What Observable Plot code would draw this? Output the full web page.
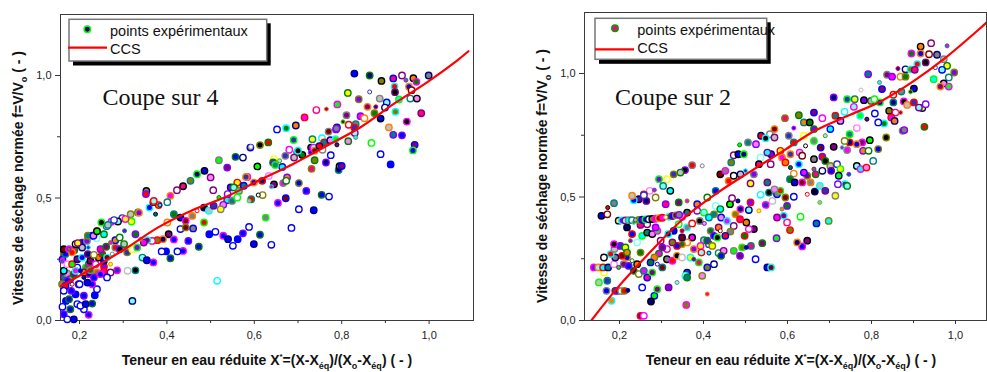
<!DOCTYPE html>
<html>
<head>
<meta charset="utf-8">
<script src="https://cdn.jsdelivr.net/npm/d3@7"></script>
<script src="https://cdn.jsdelivr.net/npm/@observablehq/plot@0.6"></script>
<style>
  body { margin: 0; background: #fff; }
  #wrap { position: relative; width: 987px; height: 372px; overflow: hidden; background: #fff; }
  #wrap svg { position: absolute; top: 0; }
</style>
</head>
<body>
<div id="wrap"></div>
<script>
// ---- Ticks ----
const xTicks = [0.2, 0.4, 0.6, 0.8, 1.0];
const xMinorTicks = [0.3, 0.5, 0.7, 0.9];
const yTicks = [0, 0.5, 1.0];
const yMinorTicks = [0.25, 0.75];

// ---- "Coupe sur 4": experimental points [X*, f] ----
const leftPoints = [
  [0.864,1.0],[0.891,0.978],[0.918,0.988],[0.938,1.0],[0.947,0.981],[0.964,0.989],[0.971,0.974],[0.954,0.954],[0.960,0.940],[0.999,1.0],
  [0.921,0.955],[0.922,0.932],[0.887,0.906],[0.864,0.933],[0.814,0.929],[0.839,0.903],[0.903,0.890],[0.931,0.902],[0.957,0.906],[0.972,0.906],
  [0.790,0.882],[0.859,0.872],[0.878,0.872],[0.899,0.869],[0.923,0.852],[0.982,0.846],[0.811,0.838],[0.843,0.834],[0.852,0.826],[0.875,0.846],
  [0.889,0.824],[0.803,0.811],[0.832,0.801],[0.816,0.799],[0.949,0.812],[0.908,0.788],[0.829,0.788],[0.789,0.788],[0.787,0.780],[0.830,0.765],
  [0.832,0.747],[0.918,0.758],[0.815,0.732],[0.868,0.725],[0.967,0.717],[0.963,0.694],[0.793,0.614],[0.795,0.630],[0.742,0.859],[0.765,0.863],
  [0.715,0.829],[0.695,0.796],[0.673,0.785],[0.652,0.780],[0.770,0.771],[0.788,0.784],
  [0.632,0.727],[0.613,0.716],[0.592,0.709],[0.690,0.737],[0.733,0.740],[0.730,0.706],[0.736,0.706],[0.755,0.744],[0.760,0.727],[0.774,0.736],
  [0.786,0.740],[0.789,0.717],[0.775,0.675],[0.764,0.645],[0.738,0.654],[0.731,0.619],[0.800,0.631],[0.680,0.697],[0.698,0.686],[0.710,0.676],
  [0.728,0.686],[0.738,0.693],[0.756,0.697],[0.749,0.712],[0.700,0.693],[0.691,0.665],[0.671,0.672],[0.645,0.659],[0.643,0.645],[0.658,0.652],
  [0.664,0.627],[0.648,0.635],[0.633,0.590],[0.607,0.629],[0.584,0.586],[0.599,0.563],[0.618,0.570],[0.619,0.512],[0.639,0.546],[0.645,0.556],
  [0.666,0.561],[0.675,0.584],[0.673,0.570],[0.702,0.561],[0.672,0.499],[0.626,0.420],[0.593,0.495],[0.609,0.512],[0.568,0.550],[0.581,0.586],
  [0.561,0.563],[0.546,0.543],[0.553,0.518],[0.538,0.491],[0.549,0.488],[0.529,0.472],[0.519,0.502],[0.506,0.532],[0.486,0.611],[0.469,0.597],
  [0.454,0.570],[0.437,0.548],[0.423,0.532],[0.408,0.509],[0.381,0.471],[0.374,0.434],[0.360,0.461],[0.369,0.483],[0.353,0.529],[0.352,0.516],
  [0.334,0.441],[0.317,0.434],[0.298,0.418],[0.319,0.404],[0.303,0.366],[0.288,0.404],[0.273,0.403],[0.262,0.385],[0.240,0.366],[0.229,0.346],
  [0.221,0.341],[0.206,0.318],[0.195,0.309],[0.176,0.291],[0.188,0.287],[0.164,0.271],[0.161,0.249],
  [0.401,0.400],[0.416,0.434],[0.431,0.420],[0.443,0.407],[0.458,0.427],[0.469,0.448],[0.485,0.461],[0.496,0.448],[0.507,0.468],[0.523,0.454],
  [0.539,0.516],[0.553,0.543],[0.565,0.529],[0.576,0.550],[0.588,0.488],[0.561,0.502],[0.404,0.352],[0.416,0.331],[0.391,0.332],[0.378,0.328],
  [0.366,0.325],[0.355,0.328],[0.347,0.318],[0.340,0.332],[0.328,0.352],[0.431,0.373],[0.443,0.380],[0.460,0.376],[0.485,0.400],
  [0.328,0.205],[0.310,0.203],[0.286,0.205],[0.271,0.230],[0.256,0.219],[0.321,0.080],[0.515,0.162],
  [0.164,0.176],[0.172,0.192],[0.179,0.169],[0.187,0.189],[0.195,0.216],[0.202,0.203],[0.214,0.216],[0.221,0.230],[0.225,0.244],[0.237,0.230],
  [0.244,0.257],[0.252,0.271],[0.256,0.244],[0.263,0.257],[0.275,0.271],[0.282,0.298],[0.292,0.291],[0.302,0.312],[0.309,0.278],[0.321,0.291],
  [0.332,0.298],[0.344,0.257],[0.164,0.203],[0.160,0.244],[0.172,0.230],[0.183,0.230],[0.195,0.250],[0.206,0.257],[0.219,0.271],[0.233,0.268],
  [0.248,0.291],[0.261,0.301],[0.271,0.318],[0.282,0.328],[0.292,0.339],[0.168,0.271],[0.164,0.291],[0.176,0.291],[0.183,0.278],[0.191,0.312],
  [0.206,0.298],[0.220,0.298],[0.196,0.316],[0.217,0.325],[0.239,0.336],[0.256,0.352],[0.219,0.346],[0.232,0.346],[0.240,0.364],[0.198,0.148],
  [0.210,0.176],[0.221,0.189],[0.240,0.196],[0.256,0.200],[0.271,0.196],[0.191,0.203],[0.210,0.196],[0.225,0.205],[0.172,0.162],[0.183,0.148],
  [0.160,0.148],[0.168,0.141],
  [0.250,0.400],[0.265,0.390],[0.279,0.410],[0.305,0.414],[0.336,0.440],[0.370,0.488],[0.384,0.471],[0.401,0.483],[0.500,0.584],[0.519,0.654],
  [0.538,0.624],[0.557,0.668],[0.574,0.665],[0.591,0.706]
];

// "Coupe sur 4": the blue run (low moisture tail and the row under the curve)
const leftBlueRun = [
  [0.829,1.008],[0.889,0.679],[0.912,0.637],[0.938,0.756],[0.702,0.454],[0.736,0.450],[0.754,0.513],[0.771,0.506],[0.719,0.529],[0.654,0.480],
  [0.685,0.378],[0.473,0.301],[0.497,0.352],[0.511,0.362],[0.529,0.346],[0.540,0.332],[0.551,0.305],[0.562,0.332],[0.574,0.356],[0.588,0.382],
  [0.599,0.312],[0.613,0.350],[0.639,0.309],[0.449,0.325],[0.437,0.284],[0.424,0.282],[0.408,0.254],[0.398,0.282],[0.388,0.282],[0.369,0.237],
  [0.354,0.246],[0.164,0.121],[0.169,0.080],[0.164,0.026],[0.172,0.005],[0.187,0.005],[0.179,0.046],[0.195,0.067],[0.210,0.101],[0.221,0.023],
  [0.210,0.046],[0.229,0.069],[0.235,0.103],[0.240,0.128],[0.229,0.148],[0.218,0.155],[0.200,0.148],[0.191,0.107],[0.181,0.121],[0.202,0.060],
  [0.214,0.067],[0.176,0.087],[0.161,0.056],[0.233,0.176],[0.248,0.189],[0.263,0.176]
];

// "Coupe sur 4": characteristic drying curve (CCS)
const leftCurve = [
  [0.157,0.140],[0.228,0.211],[0.305,0.293],[0.381,0.381],[0.457,0.449],[0.533,0.503],[0.610,0.571],
  [0.690,0.640],[0.767,0.714],[0.843,0.789],[0.919,0.884],[0.996,0.973],[1.064,1.061],[1.090,1.099]
];

// ---- "Coupe sur 2": experimental points [X*, f] ----
const rightPoints = [
  [0.942,1.123],[0.980,1.112],[0.917,1.109],[0.895,1.081],[0.917,1.081],[0.937,1.078],[0.956,1.076],[0.909,1.038],[0.929,1.045],[0.972,1.058],
  [0.952,1.024],[0.980,1.031],[0.997,1.004],[0.968,1.015],[0.948,0.977],[0.984,0.984],[0.972,0.960],[0.984,0.947],[0.964,0.947],[0.863,1.020],
  [0.881,1.017],[0.893,1.017],[0.903,1.015],[0.837,0.995],[0.849,0.987],[0.869,0.987],[0.881,0.987],[0.901,0.939],[0.893,0.926],[0.871,0.927],
  [0.852,0.914],[0.877,0.887],[0.885,0.873],[0.901,0.883],[0.921,0.860],[0.929,0.876],[0.913,0.862],[0.819,0.964],[0.792,0.997],[0.799,0.889],
  [0.807,0.896],[0.825,0.937],[0.820,0.883],[0.852,0.883],[0.842,0.849],[0.857,0.842],[0.869,0.842],[0.847,0.822],[0.855,0.808],[0.830,0.798],
  [0.816,0.802],[0.874,0.768],[0.878,0.771],[0.926,0.784],[0.835,0.741],[0.775,0.933],[0.742,0.896],[0.760,0.896],[0.782,0.892],[0.758,0.865],
  [0.736,0.845],[0.714,0.829],[0.726,0.808],[0.773,0.829],[0.789,0.815],[0.808,0.838],[0.710,0.903],
  [0.627,0.831],[0.594,0.819],[0.663,0.842],[0.683,0.819],[0.639,0.802],[0.653,0.802],[0.615,0.779],[0.569,0.775],[0.558,0.754],[0.537,0.748],
  [0.548,0.738],[0.569,0.741],[0.603,0.748],[0.639,0.748],[0.663,0.775],[0.690,0.748],[0.702,0.775],[0.748,0.754],[0.765,0.779],[0.796,0.730],
  [0.778,0.721],[0.765,0.714],[0.748,0.721],[0.736,0.727],[0.730,0.700],[0.710,0.703],[0.742,0.690],[0.780,0.687],[0.793,0.687],[0.816,0.694],
  [0.679,0.700],[0.663,0.727],[0.615,0.721],[0.643,0.707],[0.629,0.680],[0.607,0.673],[0.583,0.687],[0.561,0.673],[0.536,0.660],[0.552,0.680],
  [0.506,0.721],[0.525,0.714],[0.486,0.711],[0.472,0.669],[0.483,0.673],[0.496,0.673],[0.466,0.640],[0.532,0.633],[0.560,0.633],[0.587,0.660],
  [0.595,0.640],[0.607,0.619],[0.627,0.633],[0.635,0.667],[0.663,0.653],[0.683,0.663],[0.690,0.646],[0.702,0.626],[0.718,0.633],[0.726,0.613],
  [0.746,0.592],[0.765,0.626],[0.774,0.613],[0.804,0.646],[0.788,0.619],[0.722,0.586],[0.737,0.552],[0.704,0.606],[0.683,0.606],[0.663,0.613],
  [0.667,0.592],[0.647,0.586],[0.639,0.599],[0.615,0.595],[0.606,0.572],[0.617,0.559],[0.635,0.559],[0.655,0.559],[0.647,0.511],[0.665,0.522],
  [0.677,0.545],[0.690,0.525],[0.714,0.505],[0.720,0.552],[0.742,0.545],[0.698,0.403],[0.669,0.393],[0.677,0.478],[0.631,0.420],[0.647,0.323],
  [0.635,0.300],[0.623,0.316],[0.606,0.366],[0.599,0.397],[0.591,0.424],[0.575,0.417],[0.587,0.451],[0.599,0.464],[0.615,0.501],[0.595,0.498],
  [0.575,0.511],[0.583,0.525],[0.556,0.518],[0.564,0.484],[0.548,0.468],[0.532,0.444],[0.512,0.478],[0.508,0.447],[0.536,0.509],[0.552,0.559],
  [0.569,0.531],[0.574,0.333],[0.540,0.313],[0.524,0.248],[0.502,0.296],[0.492,0.296],[0.513,0.302],[0.520,0.370],[0.508,0.370],[0.502,0.397],
  [0.498,0.343],[0.552,0.215],[0.561,0.215],
  [0.397,0.626],[0.373,0.629],[0.356,0.609],[0.345,0.599],[0.329,0.592],[0.313,0.572],[0.294,0.572],[0.304,0.545],[0.321,0.525],[0.283,0.528],
  [0.272,0.525],[0.258,0.511],[0.246,0.491],[0.234,0.487],[0.264,0.484],[0.286,0.498],[0.310,0.471],[0.341,0.478],[0.361,0.484],[0.385,0.471],
  [0.409,0.498],[0.429,0.525],[0.440,0.592],[0.452,0.606],[0.460,0.565],[0.472,0.586],[0.488,0.592],[0.500,0.606],[0.512,0.555],[0.520,0.592],
  [0.429,0.464],[0.440,0.451],[0.425,0.430],[0.442,0.417],[0.463,0.471],[0.468,0.495],[0.482,0.484],[0.488,0.451],[0.476,0.430],[0.487,0.410],
  [0.472,0.383],[0.456,0.403],[0.436,0.377],[0.417,0.363],[0.425,0.343],[0.440,0.363],[0.464,0.360],[0.452,0.343],[0.433,0.336],[0.401,0.325],
  [0.413,0.309],[0.393,0.302],[0.377,0.289],[0.395,0.275],[0.413,0.273],[0.436,0.273],[0.448,0.282],[0.472,0.282],[0.487,0.262],[0.442,0.262],
  [0.425,0.228],[0.409,0.215],[0.389,0.235],[0.377,0.248],[0.373,0.336],[0.361,0.316],[0.349,0.309],[0.337,0.302],[0.349,0.336],[0.361,0.377],
  [0.373,0.393],[0.391,0.403],[0.402,0.393],[0.409,0.323],[0.421,0.302],[0.385,0.444],[0.401,0.437],[0.413,0.417],[0.361,0.437],[0.349,0.420],
  [0.341,0.390],[0.349,0.363],[0.329,0.363],[0.316,0.350],[0.326,0.316],[0.313,0.289],[0.302,0.296],[0.294,0.271],[0.283,0.255],[0.274,0.235],
  [0.290,0.228],[0.302,0.215],[0.313,0.248],[0.326,0.242],[0.337,0.262],[0.349,0.255],[0.361,0.194],[0.369,0.255],[0.317,0.134],[0.337,0.154],
  [0.357,0.181],[0.361,0.174],[0.397,0.181],[0.283,0.100],[0.290,0.127],[0.254,0.134],[0.275,0.077],[0.359,0.063],[0.409,0.107],[0.250,0.019],
  [0.258,0.019],[0.181,0.080],[0.190,0.120],[0.169,0.120],[0.196,0.120],[0.204,0.119],[0.212,0.120],[0.220,0.122],[0.151,0.154],[0.171,0.161],
  [0.163,0.194],[0.139,0.215],[0.150,0.215],[0.161,0.215],[0.173,0.215],[0.187,0.228],[0.198,0.215],[0.210,0.228],[0.222,0.221],[0.234,0.201],
  [0.246,0.188],[0.266,0.174],[0.278,0.194],[0.258,0.201],[0.242,0.228],[0.230,0.242],[0.218,0.255],[0.206,0.262],[0.190,0.255],[0.179,0.269],
  [0.163,0.255],[0.188,0.289],[0.202,0.302],[0.214,0.296],[0.226,0.323],[0.242,0.316],[0.254,0.343],[0.266,0.356],[0.278,0.350],[0.290,0.363],
  [0.298,0.323],[0.230,0.350],[0.218,0.377],[0.234,0.397],[0.250,0.387],[0.266,0.390],[0.286,0.377],[0.218,0.275],[0.250,0.275],[0.157,0.424],
  [0.171,0.430],[0.187,0.475],[0.172,0.457],[0.187,0.309],[0.230,0.505],[0.258,0.507],
  [0.198,0.404],[0.206,0.405],[0.214,0.405],[0.222,0.406],[0.230,0.406],[0.238,0.407],[0.246,0.407],[0.254,0.408],[0.262,0.409],[0.270,0.410],
  [0.278,0.411],[0.286,0.412],[0.294,0.414],[0.302,0.416],[0.310,0.418],[0.318,0.420],[0.326,0.423],[0.334,0.426],[0.342,0.428]
];

// "Coupe sur 2": characteristic drying curve (CCS)
const rightCurve = [
  [0.133,0.000],[0.196,0.134],[0.276,0.282],[0.355,0.417],[0.434,0.518],[0.514,0.606],[0.593,0.690],
  [0.665,0.768],[0.744,0.829],[0.824,0.889],[0.901,0.970],[0.972,1.058],[1.052,1.173],[1.076,1.210]
];

// Symbol colours cycled over the runs
const palette = ["#000080","#ff0000","#00ff00","#0000ff","#00ffff","#ff00ff","#ffff00","#808000",
                 "#000000","#800080","#800000","#008080","#ff8000","#8000ff","#ff0080","#c0c0c0",
                 "#0000ff","#808080","#ff80ff","#008000","#80ffff","#800080","#3030c0"];
const edgePalette = ["#000080","#008000","#000000","#00ffff","#808000","#ff00ff","#800080","#0000ff",
                     "#ff8000","#808080","#00ff00","#ff0000","#8000ff","#008080"];

const fmt = d => d3.format(".1f")(d).replace(".", ",");
const FONT = "'Liberation Sans', Arial, Helvetica, sans-serif";

function styleRows(points, i0) {
  return points.map(([x, y], k) => {
    const i = k + i0;
    const hollow = i % 5 === 3;
    let fill = palette[(i * 7) % palette.length];
    let stroke = edgePalette[(i * 3 + 1) % edgePalette.length];
    if (stroke === fill) stroke = "#000000";
    return { x, y, fill: hollow ? "#ffffff" : fill, stroke: hollow ? fill : stroke, small: i % 9 === 4 };
  });
}

function blueRows(points) {
  return points.map(([x, y], i) => {
    const hollow = i % 3 === 1;
    const edges = ["#000080", "#008000", "#0000ff", "#8000ff", "#ff00ff"];
    return { x, y, fill: hollow ? "#ffffff" : "#0000ff", stroke: hollow ? "#0000ff" : edges[i % edges.length], small: false };
  });
}

function panel(cfg) {
  const rows = cfg.rows;
  const svg = Plot.plot({
    width: cfg.width,
    height: 372,
    marginLeft: cfg.marginLeft,
    marginRight: cfg.marginRight,
    marginTop: cfg.marginTop,
    marginBottom: 52,
    x: { domain: cfg.xDomain },
    y: { domain: cfg.yDomain },
    color: { type: "identity" },
    style: { fontFamily: FONT, fontSize: "11px", color: "#222", background: "transparent", overflow: "visible" },
    marks: [
      Plot.frame({ stroke: "#3c3c3c", strokeWidth: 1 }),
      Plot.axisX(xTicks, { tickSize: 4, tickPadding: 7, tickFormat: fmt, label: null, stroke: "#333" }),
      Plot.axisX(xMinorTicks, { tickSize: 3, tickFormat: () => "", label: null, stroke: "#333" }),
      Plot.axisY(yTicks, { tickSize: 5, tickPadding: 4, tickFormat: fmt, label: null, stroke: "#333" }),
      Plot.axisY(yMinorTicks, { tickSize: 3, tickFormat: () => "", label: null, stroke: "#333" }),
      Plot.dot(rows.filter(d => !d.small), { x: "x", y: "y", r: 3.2, fill: "fill", stroke: "stroke", strokeWidth: 1.4 }),
      Plot.dot(rows.filter(d => d.small), { x: "x", y: "y", r: 2.0, fill: "fill", stroke: "stroke", strokeWidth: 1 }),
      Plot.line(cfg.curve, { x: d => d[0], y: d => d[1], stroke: "#ff0000", strokeWidth: 2.2, curve: "catmull-rom", clip: true }),
      Plot.text([cfg.title], { frameAnchor: "top-left", dx: cfg.titleDx, dy: cfg.titleDy, lineAnchor: "bottom",
        textAnchor: "start", fontFamily: "'Liberation Serif', 'Times New Roman', serif", fontSize: 24, fill: "#111" })
    ]
  });

  const s = d3.select(svg);
  const L = cfg.legend;
  const g = s.append("g").attr("font-family", FONT).attr("text-anchor", "start");
  g.append("rect").attr("x", L.x + 4).attr("y", L.y + 4).attr("width", L.w).attr("height", L.h + 0.5).attr("fill", "#000");
  g.append("rect").attr("x", L.x).attr("y", L.y).attr("width", L.w).attr("height", L.h)
    .attr("fill", "#fff").attr("stroke", "#777").attr("stroke-width", 1.5);
  g.append("circle").attr("cx", L.mx).attr("cy", L.y + 10).attr("r", 3.2)
    .attr("fill", L.markFill).attr("stroke", L.markStroke).attr("stroke-width", 1.5);
  g.append("text").attr("x", L.tx).attr("y", L.y + 16.2).attr("font-size", 14.5).attr("fill", "#111")
    .attr("text-anchor", "start").text("points expérimentaux");
  g.append("line").attr("x1", L.lx1).attr("x2", L.lx2).attr("y1", L.ly).attr("y2", L.ly)
    .attr("stroke", "#ff0000").attr("stroke-width", 2.2);
  g.append("text").attr("x", L.tx).attr("y", L.y + 34.3).attr("font-size", 14.5).attr("fill", "#111")
    .attr("text-anchor", "start").text("CCS");

  // X axis title with superscript and subscripts
  const xt = s.append("text").attr("x", cfg.xTitleX).attr("y", 365).attr("text-anchor", "middle")
    .attr("font-family", FONT).attr("font-weight", "bold").attr("font-size", 14).attr("fill", "#111");
  xt.append("tspan").text("Teneur en eau réduite X");
  xt.append("tspan").attr("font-size", 8).attr("dy", -6).text("*");
  xt.append("tspan").attr("dy", 6).text("=(X-X");
  xt.append("tspan").attr("font-size", 9).attr("dy", 4).text("éq");
  xt.append("tspan").attr("dy", -4).text(")/(X");
  xt.append("tspan").attr("font-size", 9).attr("dy", 4).text("o");
  xt.append("tspan").attr("dy", -4).text("-X");
  xt.append("tspan").attr("font-size", 9).attr("dy", 4).text("éq");
  xt.append("tspan").attr("dy", -4).text(") ( - )");

  // Y axis title
  const yt = s.append("text").attr("transform", `translate(${cfg.yTitleX},${cfg.yTitleY}) rotate(-90)`)
    .attr("text-anchor", "middle").attr("font-family", FONT).attr("font-weight", "bold")
    .attr("font-size", 14).attr("fill", "#111");
  yt.append("tspan").text("Vitesse de séchage normée f=V/V");
  yt.append("tspan").attr("font-size", 9).attr("dy", 4).text("o");
  yt.append("tspan").attr("dy", -4).text(" ( - )");

  svg.style.left = cfg.left + "px";
  return svg;
}

const wrap = document.getElementById("wrap");

wrap.appendChild(panel({
  left: 0, width: 500, marginLeft: 60, marginRight: 27, marginTop: 14,
  xDomain: [0.1565, 1.1016], yDomain: [0, 1.249],
  rows: styleRows(leftPoints, 0).concat(blueRows(leftBlueRun)),
  curve: leftCurve, title: "Coupe sur 4", titleDx: 42, titleDy: 90,
  legend: { x: 69, y: 19.3, w: 197.7, h: 41.7, mx: 87.3, tx: 110, lx1: 68, lx2: 107, ly: 47.7,
            markFill: "#000080", markStroke: "#00ff00" },
  xTitleX: 267, yTitleX: 23, yTitleY: 178
}));

wrap.appendChild(panel({
  left: 500, width: 487, marginLeft: 84, marginRight: 1, marginTop: 12,
  xDomain: [0.1167, 1.0738], yDomain: [0, 1.247],
  rows: styleRows(rightPoints, 3),
  curve: rightCurve, title: "Coupe sur 2", titleDx: 30.5, titleDy: 92,
  legend: { x: 95, y: 18.3, w: 171.7, h: 41, mx: 115, tx: 137.3, lx1: 95, lx2: 134, ly: 49.3,
            markFill: "#ff0080", markStroke: "#00a000" },
  xTitleX: 291, yTitleX: 46.5, yTitleY: 176
}));
</script>
</body>
</html>
